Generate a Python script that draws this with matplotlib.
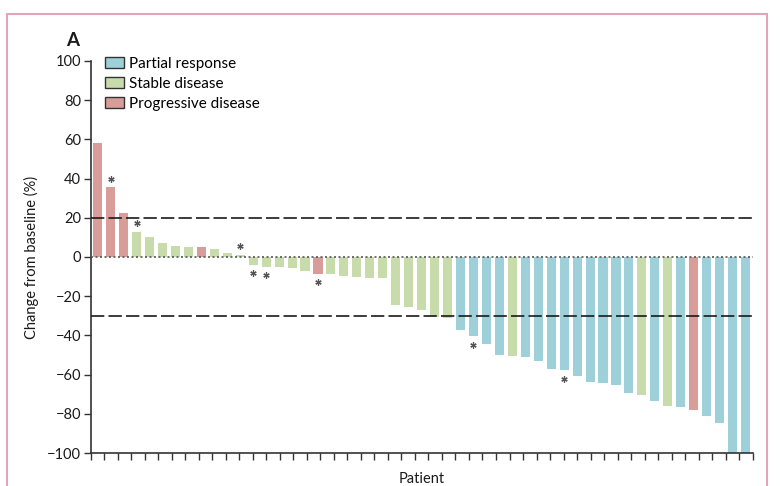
import matplotlib
matplotlib.use("Agg")
import matplotlib.pyplot as plt
import numpy as np
from matplotlib.patches import Rectangle, Patch

plt.rcParams['font.family'] = ['Lato', 'DejaVu Sans']

# ---- data ----
changes = [58.2, 35.5, 22.4, 12.9, 10.2, 7.1, 5.8, 5.3, 5.1, 4.2, 2.2, 1.2,
           -3.9, -4.9, -5.1, -5.8, -7.1, -8.5, -8.9, -9.5, -10.4, -10.7, -10.9,
           -24.3, -25.4, -27.2, -30.8, -31.1, -37.1, -40.2, -44.2, -50.2, -50.7,
           -50.9, -52.9, -57.3, -57.8, -60.7, -63.8, -64.5, -65.5, -69.4, -70.6,
           -73.5, -76.2, -76.7, -77.9, -81.1, -84.9, -100.0, -100.0]
responses = ['PD', 'PD', 'PD', 'SD', 'SD', 'SD', 'SD', 'SD', 'PD', 'SD', 'SD', 'SD',
             'SD', 'SD', 'SD', 'SD', 'SD', 'PD', 'SD', 'SD', 'SD', 'SD', 'SD',
             'SD', 'SD', 'SD', 'SD', 'SD', 'PR', 'PR', 'PR', 'PR', 'SD',
             'PR', 'PR', 'PR', 'PR', 'PR', 'PR', 'PR', 'PR', 'PR', 'SD',
             'PR', 'SD', 'PR', 'PD', 'PR', 'PR', 'PR', 'PR']
starred = [2, 4, 12, 13, 14, 18, 30, 37]  # 1-based patient index
legend_labels = ['Partial response', 'Stable disease', 'Progressive disease']
thresholds = [20, -30]

colors = {'PR': '#9dd0d8', 'SD': '#c8dcab', 'PD': '#d99d99'}

fig = plt.figure(figsize=(7.82, 4.86), dpi=100)
ax = fig.add_axes([0.116, 0.0679, 0.8465, 0.8066])

x = np.arange(len(changes))
ax.bar(x, changes, width=0.7, color=[colors[r] for r in responses],
       edgecolor='none', zorder=2)

xmin, xmax = -0.54, len(changes) - 1 + 0.55
ax.set_xlim(xmin, xmax)
ax.set_ylim(-100, 100)

for t in thresholds:
    ax.axhline(t, color='#1a1a1a', lw=1.2, dashes=(8, 2.5), zorder=3)
ax.axhline(0, color='#555555', lw=1.2, dashes=(1.2, 1.5), zorder=3)

# asterisks
for p in starred:
    v = changes[p - 1]
    yy = v + 4.5 if v > 0 else v - 4.5
    ax.plot(p - 1, yy, marker=(6, 2, 0), ms=4.5, color='#555555', mew=0.9,
            zorder=4, linestyle='none')

# spines and ticks
for s in ['top', 'right']:
    ax.spines[s].set_visible(False)
for s in ['left', 'bottom']:
    ax.spines[s].set_color('#333333')
    ax.spines[s].set_linewidth(1.2)
ax.set_yticks(np.arange(-100, 101, 20))
ax.set_yticklabels([f"{v}".replace('-', '\u2212') for v in range(-100, 101, 20)])
ax.set_xticks(np.linspace(xmin, xmax, 50))
ax.set_xticklabels([])
ax.tick_params(axis='y', direction='out', length=5, width=1.0, color='#333333',
               labelsize=10.5, labelcolor='#1a1a1a', pad=2)
ax.tick_params(axis='x', direction='out', length=5, width=1.0, color='#333333',
               pad=0)

ax.set_ylabel('Change from baseline (%)', fontsize=10.5, color='#1a1a1a', labelpad=6)
ax.set_xlabel('Patient', fontsize=10.5, color='#1a1a1a', labelpad=8.5)

fig.text(0.085, 0.905, 'A', fontsize=13.5, fontweight='bold', color='#1a1a1a')

handles = [Patch(facecolor=colors[k], edgecolor='#333333', linewidth=1.0)
           for k in ['PR', 'SD', 'PD']]
ax.legend(handles, legend_labels, loc='upper left',
          bbox_to_anchor=(0.022, 1.01), frameon=False, fontsize=11,
          handlelength=1.2, handleheight=0.72, handletextpad=0.35,
          labelspacing=0.38, borderpad=0, borderaxespad=0)

# figure frame
fig.patches.append(Rectangle((0.009, -0.1), 0.972, 1.071, transform=fig.transFigure,
                             fill=False, edgecolor='#e0a6b8', linewidth=1.5))

fig.savefig('out.png', dpi=100)
